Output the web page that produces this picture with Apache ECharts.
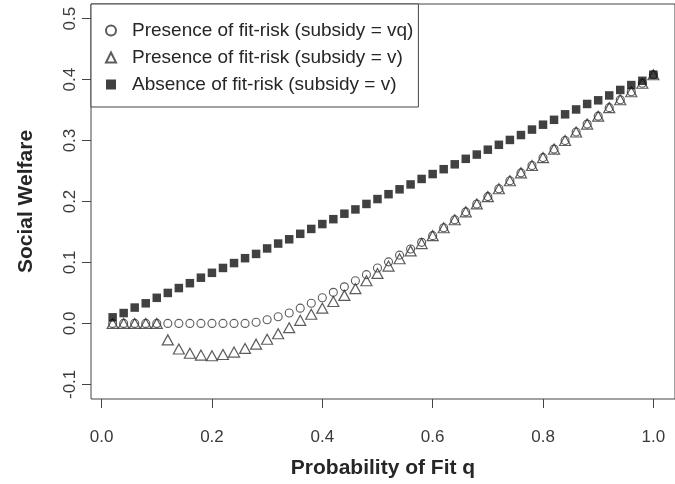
<!DOCTYPE html>
<html>
<head>
    <meta charset="utf-8">
    <script type="text/javascript" src="https://cdn.jsdelivr.net/npm/echarts@6/dist/echarts.min.js"></script>
</head>
<body style="margin: 0; background: #fff">
    <div id="container" style="width: 675px; height: 484px;"></div>
    <script type="text/javascript">
    // probability of fit q, 0.02 steps
    var qValues = [0.02, 0.04, 0.06, 0.08, 0.10, 0.12, 0.14, 0.16, 0.18, 0.20,
                   0.22, 0.24, 0.26, 0.28, 0.30, 0.32, 0.34, 0.36, 0.38, 0.40,
                   0.42, 0.44, 0.46, 0.48, 0.50, 0.52, 0.54, 0.56, 0.58, 0.60,
                   0.62, 0.64, 0.66, 0.68, 0.70, 0.72, 0.74, 0.76, 0.78, 0.80,
                   0.82, 0.84, 0.86, 0.88, 0.90, 0.92, 0.94, 0.96, 0.98, 1.00];

    // presence of fit-risk, subsidy = vq (circles)
    var welfareVq = [0, 0, 0, 0, 0, 0, 0, 0, 0, 0,
                     0, 0, 0, 0.002, 0.006, 0.011, 0.017, 0.025, 0.033, 0.042,
                     0.051, 0.060, 0.070, 0.080, 0.091, 0.101, 0.112, 0.122, 0.133, 0.144,
                     0.157, 0.170, 0.183, 0.196, 0.208, 0.221, 0.234, 0.247, 0.259, 0.272,
                     0.286, 0.300, 0.314, 0.327, 0.340, 0.354, 0.367, 0.380, 0.394, 0.408];

    // presence of fit-risk, subsidy = v (triangles)
    var welfareV = [0, 0, 0, 0, 0, -0.027, -0.042, -0.049, -0.052, -0.053,
                    -0.051, -0.047, -0.041, -0.034, -0.026, -0.017, -0.007, 0.005, 0.015, 0.025,
                    0.036, 0.046, 0.057, 0.070, 0.082, 0.094, 0.106, 0.119, 0.131, 0.144,
                    0.157, 0.170, 0.183, 0.196, 0.208, 0.221, 0.234, 0.247, 0.259, 0.272,
                    0.286, 0.300, 0.314, 0.327, 0.340, 0.354, 0.367, 0.380, 0.394, 0.408];

    // absence of fit-risk, subsidy = v (filled squares)
    var welfareNoRisk = [0.010, 0.017, 0.026, 0.033, 0.042, 0.050, 0.058, 0.066, 0.075, 0.083,
                         0.091, 0.099, 0.107, 0.114, 0.123, 0.131, 0.138, 0.147, 0.155, 0.163,
                         0.171, 0.180, 0.187, 0.196, 0.204, 0.212, 0.220, 0.228, 0.237, 0.245,
                         0.253, 0.261, 0.270, 0.277, 0.285, 0.293, 0.301, 0.309, 0.318, 0.326,
                         0.334, 0.343, 0.351, 0.360, 0.366, 0.374, 0.383, 0.391, 0.398, 0.408];

    var xTicks = [0, 0.2, 0.4, 0.6, 0.8, 1.0];
    var yTicks = [-0.1, 0, 0.1, 0.2, 0.3, 0.4, 0.5];

    var seriesNames = ['Presence of fit-risk (subsidy = vq)',
                       'Presence of fit-risk (subsidy = v)',
                       'Absence of fit-risk (subsidy = v)'];

    function pairs(ys) {
        return qValues.map(function (q, i) { return [q, ys[i]]; });
    }

    var font = 'Liberation Sans, Arial, Helvetica, sans-serif';
    var ink = '#262626';

    var myChart = echarts.init(document.getElementById('container'), null, { renderer: 'canvas' });

    var option = {
        animation: false,
        backgroundColor: '#fff',
        textStyle: { fontFamily: font },
        grid: {
            show: true,
            left: 91,
            top: 4,
            width: 591,
            height: 395,
            borderColor: '#444',
            borderWidth: 1,
            backgroundColor: 'transparent'
        },
        legend: {
            orient: 'vertical',
            left: 91,
            top: 4,
            padding: [17, 5, 13, 14],
            itemGap: 8,
            itemWidth: 10,
            itemHeight: 10,
            borderColor: '#444',
            borderWidth: 1,
            backgroundColor: '#fff',
            textStyle: {
                fontFamily: font,
                fontSize: 19,
                lineHeight: 18,
                color: ink,
                padding: [0, 0, 0, 11]
            },
            data: seriesNames
        },
        xAxis: {
            type: 'value',
            min: -0.0192,
            max: 1.0392,
            name: 'Probability of Fit q',
            nameLocation: 'middle',
            nameGap: 59,
            nameTextStyle: { fontFamily: font, fontSize: 21, fontWeight: 'bold', color: ink },
            axisLine: { show: false, onZero: false },
            axisTick: { show: true, length: 9, customValues: xTicks, lineStyle: { color: '#444' } },
            axisLabel: {
                customValues: xTicks,
                margin: 30,
                fontSize: 17,
                color: '#3a3a3a',
                fontFamily: font,
                formatter: function (v) { return v.toFixed(1); }
            },
            splitLine: { show: false }
        },
        yAxis: {
            type: 'value',
            min: -0.124,
            max: 0.524,
            name: 'Social Welfare',
            nameLocation: 'middle',
            nameGap: 54,
            nameTextStyle: { fontFamily: font, fontSize: 21, fontWeight: 'bold', color: ink },
            axisLine: { show: false, onZero: false },
            axisTick: { show: true, length: 9, customValues: yTicks, lineStyle: { color: '#444' } },
            axisLabel: {
                customValues: yTicks,
                rotate: 90,
                margin: 12,
                fontSize: 17,
                color: '#3a3a3a',
                fontFamily: font,
                formatter: function (v) { return v.toFixed(1); }
            },
            splitLine: { show: false }
        },
        series: [{
            name: seriesNames[0],
            type: 'scatter',
            symbol: 'circle',
            symbolSize: 8,
            itemStyle: { color: 'rgba(0,0,0,0)', borderColor: '#333', borderWidth: 1.1 },
            data: pairs(welfareVq),
            z: 2
        }, {
            name: seriesNames[1],
            type: 'scatter',
            symbol: 'triangle',
            symbolSize: [11, 10],
            itemStyle: { color: 'rgba(0,0,0,0)', borderColor: '#333', borderWidth: 1.2 },
            data: pairs(welfareV),
            z: 3
        }, {
            name: seriesNames[2],
            type: 'scatter',
            symbol: 'rect',
            symbolSize: 8.5,
            itemStyle: { color: '#111' },
            data: pairs(welfareNoRisk),
            z: 4
        }]
    };

    myChart.setOption(option);
    </script>
</body>
</html>
